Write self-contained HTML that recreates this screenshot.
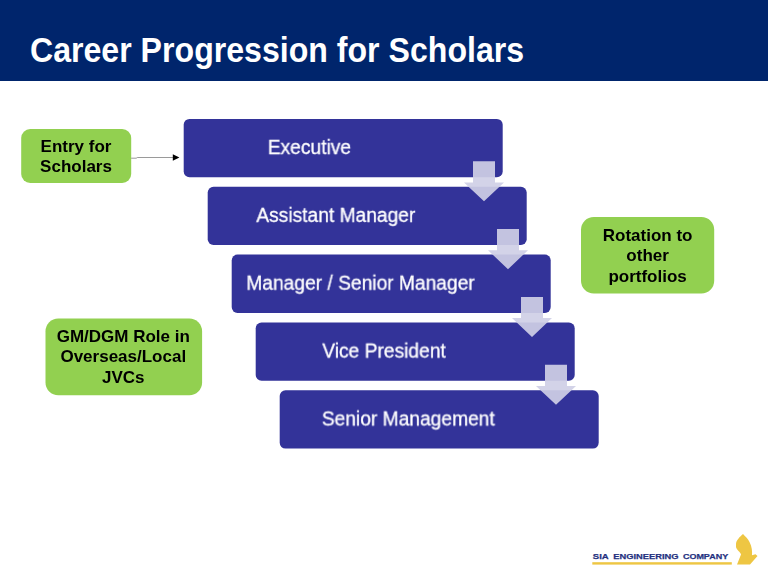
<!DOCTYPE html>
<html><head><meta charset="utf-8">
<style>
html,body{margin:0;padding:0;}
body{width:768px;height:574px;background:#fff;position:relative;overflow:hidden;font-family:"Liberation Sans",sans-serif;}
.hdr{position:absolute;left:0;top:0;width:768px;height:81px;background:#00256c;}
.title{position:absolute;left:29.6px;top:29.5px;color:#fff;font-weight:bold;font-size:35px;line-height:40px;white-space:nowrap;transform-origin:0 50%;transform:scaleX(0.917);}
.bt{position:absolute;color:#fff;font-size:19.6px;line-height:22px;white-space:nowrap;transform-origin:0 0;will-change:transform;-webkit-text-stroke:0.3px #fff;}
.gt{position:absolute;will-change:transform;color:#000;font-weight:bold;font-size:17px;line-height:20.3px;text-align:center;white-space:nowrap;}
svg{position:absolute;left:0;top:0;}
</style></head><body>
<div class="hdr"></div>
<div class="title">Career Progression for Scholars</div>
<svg width="768" height="574" viewBox="0 0 768 574">
  <rect x="183.70" y="118.90" width="319.0" height="58.3" rx="5.8" fill="#333399"/>
  <rect x="207.70" y="186.75" width="319.0" height="58.3" rx="5.8" fill="#333399"/>
  <rect x="231.70" y="254.60" width="319.0" height="58.3" rx="5.8" fill="#333399"/>
  <rect x="255.70" y="322.45" width="319.0" height="58.3" rx="5.8" fill="#333399"/>
  <rect x="279.70" y="390.30" width="319.0" height="58.3" rx="5.8" fill="#333399"/>
  <rect x="21.2" y="129" width="110" height="54" rx="9" fill="#92d050"/>
  <rect x="581" y="216.9" width="133.2" height="76.6" rx="12.8" fill="#92d050"/>
  <rect x="45.5" y="318.4" width="156.6" height="76.8" rx="12.8" fill="#92d050"/>
  <g fill="#cfcfe6" fill-opacity="0.92">
    <path d="M473 161.2h22v21.2h9l-20 18.9l-20-18.9h9z" transform="translate(0.00 0.00)"/>
    <path d="M473 161.2h22v21.2h9l-20 18.9l-20-18.9h9z" transform="translate(24.00 67.85)"/>
    <path d="M473 161.2h22v21.2h9l-20 18.9l-20-18.9h9z" transform="translate(48.00 135.70)"/>
    <path d="M473 161.2h22v21.2h9l-20 18.9l-20-18.9h9z" transform="translate(72.00 203.55)"/>
  </g>
  <path d="M131.2 158.2h5l1.2-0.7h37.6" fill="none" stroke="#555" stroke-width="0.6"/>
  <path d="M172.8 154.2l6.6 3.3l-6.6 3.3z" fill="#000"/>
  <rect x="592.3" y="562.2" width="139.5" height="2.4" fill="#eec643"/>
  <g font-family="Liberation Sans, sans-serif" font-weight="bold" font-size="8.1" fill="#25317f" stroke="#25317f" stroke-width="0.25">
    <text x="592.8" y="559.4" textLength="15.9" lengthAdjust="spacingAndGlyphs">SIA</text>
    <text x="613.3" y="559.4" textLength="65.2" lengthAdjust="spacingAndGlyphs">ENGINEERING</text>
    <text x="682.9" y="559.4" textLength="45.3" lengthAdjust="spacingAndGlyphs">COMPANY</text>
  </g>
  <path d="M743 534C740 536.5 736 540.5 736 544L736 547C736.5 550 740.5 552 741 554.5L737 564.4L750 564.4L757.5 556L755.5 554.2L752 555.2C752.3 551 752 547 749.5 542C748 539 745.5 536.5 743 534Z" fill="#eec643"/>
</svg>
<div class="bt" style="left:0;top:0;transform:translate(267.80px,136.05px) scaleX(0.98)">Executive</div>
<div class="bt" style="left:0;top:0;transform:translate(256.30px,203.90px) scaleX(0.98)">Assistant Manager</div>
<div class="bt" style="left:0;top:0;transform:translate(246.30px,271.75px) scaleX(0.98)">Manager / Senior Manager</div>
<div class="bt" style="left:0;top:0;transform:translate(322.30px,339.60px) scaleX(0.98)">Vice President</div>
<div class="bt" style="left:0;top:0;transform:translate(321.80px,407.45px) scaleX(0.98)">Senior Management</div>

<div class="gt" style="left:20.7px;top:0;transform:translateY(136.6px);width:110px;">Entry for<br>Scholars</div>
<div class="gt" style="left:581px;top:0;transform:translateY(225.9px);width:133.2px;">Rotation to<br>other<br>portfolios</div>
<div class="gt" style="left:44.9px;top:0;transform:translateY(327.3px);width:156.6px;">GM/DGM Role in<br>Overseas/Local<br>JVCs</div>
</body></html>
